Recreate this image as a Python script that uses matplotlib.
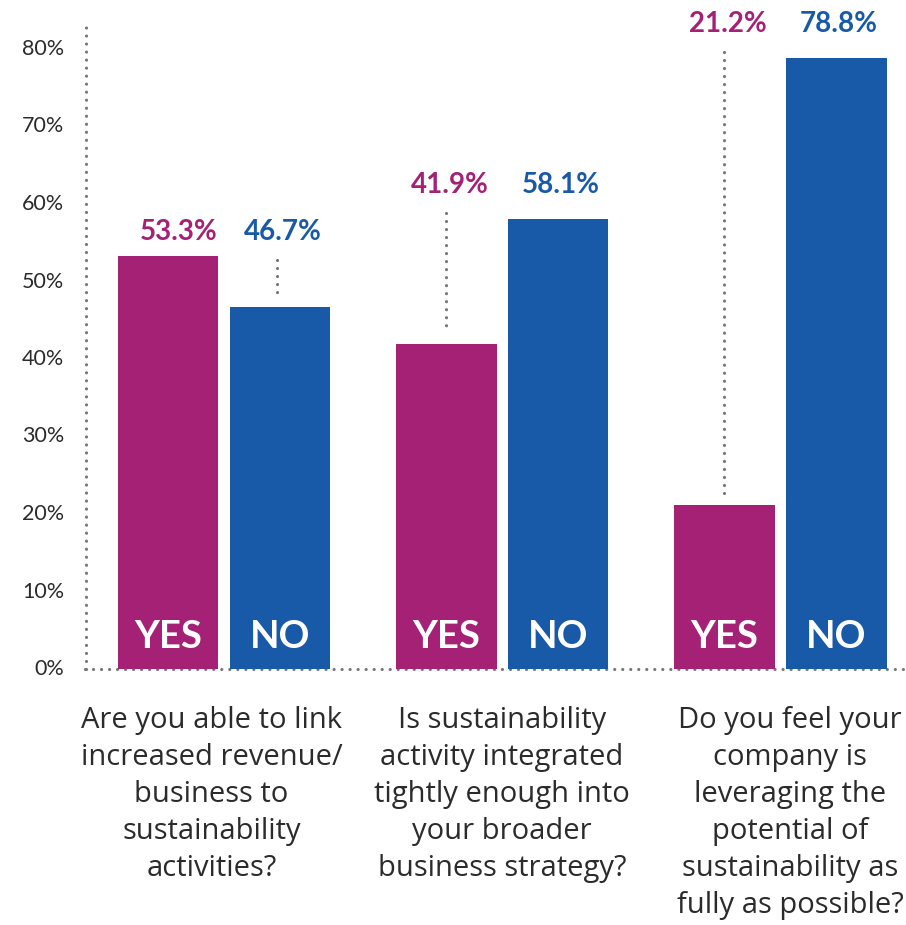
import matplotlib
matplotlib.use("Agg")
import matplotlib.pyplot as plt
import numpy as np

# ---- data ----
questions = [
    "Are you able to link\nincreased revenue/\nbusiness to\nsustainability\nactivities?",
    "Is sustainability\nactivity integrated\ntightly enough into\nyour broader\nbusiness strategy?",
    "Do you feel your\ncompany is\nleveraging the\npotential of\nsustainability as\nfully as possible?",
]
yes_values = [53.3, 41.9, 21.2]
no_values = [46.7, 58.1, 78.8]
series_names = ["YES", "NO"]
y_ticks = [0, 10, 20, 30, 40, 50, 60, 70, 80]
y_tick_labels = ["0%", "10%", "20%", "30%", "40%", "50%", "60%", "70%", "80%"]

MAGENTA = "#A42176"
BLUE = "#195AA8"
DOT = "#777777"
TXT = "#2b2b2b"

fig = plt.figure(figsize=(9.06, 9.25), dpi=100)
H = 925.0
y0_px = 669.0
px_per_unit = 7.75
ytop = y0_px / px_per_unit
ax = fig.add_axes([85 / 906, (H - y0_px) / H, 1 - 85 / 906, y0_px / H])
ax.set_ylim(0, ytop)
ax.set_xlim(-0.5, 2.453)
for s in ax.spines.values():
    s.set_visible(False)
ax.set_xticks([])
ax.set_yticks(y_ticks)
ax.set_yticklabels(y_tick_labels, fontsize=15.5, color=TXT, family="Lato")
ax.tick_params(axis="y", length=0, pad=15)
for lab in ax.get_yticklabels():
    lab.set_horizontalalignment("right")
    lab.set_verticalalignment("center")

dot_style = dict(color=DOT, linewidth=2.3, linestyle=(0, (0.01, 2.5)),
                 dash_capstyle="round", solid_capstyle="round")

# axis dotted lines
ax.plot([0.001, 0.001], [0, 83.1], transform=ax.get_yaxis_transform(), clip_on=False, **dot_style)
ax.plot([0, 1], [0, 0], transform=ax.get_yaxis_transform(), clip_on=False, **dot_style)

x = np.arange(len(questions))
w = 0.363
off = 0.2014
ax.bar(x - off, yes_values, width=w, color=MAGENTA, zorder=3)
ax.bar(x + off, no_values, width=w, color=BLUE, zorder=3)

label_offsets = [3.1, 4.4, 4.4]
question_dx = [-0.045, 0.0, 0.036]
for i in range(len(questions)):
    top = max(yes_values[i], no_values[i])
    ly = top + label_offsets[i]
    ax.text(x[i] - off + (0.04 if i == 0 else 0.015), ly, f"{yes_values[i]:.1f}%", color=MAGENTA,
            fontsize=20, fontweight="bold", family="Lato", ha="center", va="center", clip_on=False)
    ax.text(x[i] + off + 0.01, ly, f"{no_values[i]:.1f}%", color=BLUE, fontsize=20,
            fontweight="bold", family="Lato", ha="center", va="center", clip_on=False)
    # leader line for the shorter bar
    if yes_values[i] < no_values[i]:
        xs, v = x[i] - off, yes_values[i]
    else:
        xs, v = x[i] + off - 0.012, no_values[i]
    ax.plot([xs, xs], [ly - 3.6, v + 1.5], zorder=2, **dot_style)
    # YES / NO in bars
    ax.text(x[i] - off, 4.1, series_names[0], color="white", fontsize=27.5,
            fontweight="bold", family="Lato", ha="center", va="center", zorder=4)
    ax.text(x[i] + off, 4.1, series_names[1], color="white", fontsize=27.5,
            fontweight="bold", family="Lato", ha="center", va="center", zorder=4)
    # question text
    ax.text(x[i] + question_dx[i], -4.8, questions[i], color=TXT, fontsize=21, family="Open Sans",
            ha="center", va="top", linespacing=1.36, clip_on=False)

fig.savefig("out.png", dpi=100)
